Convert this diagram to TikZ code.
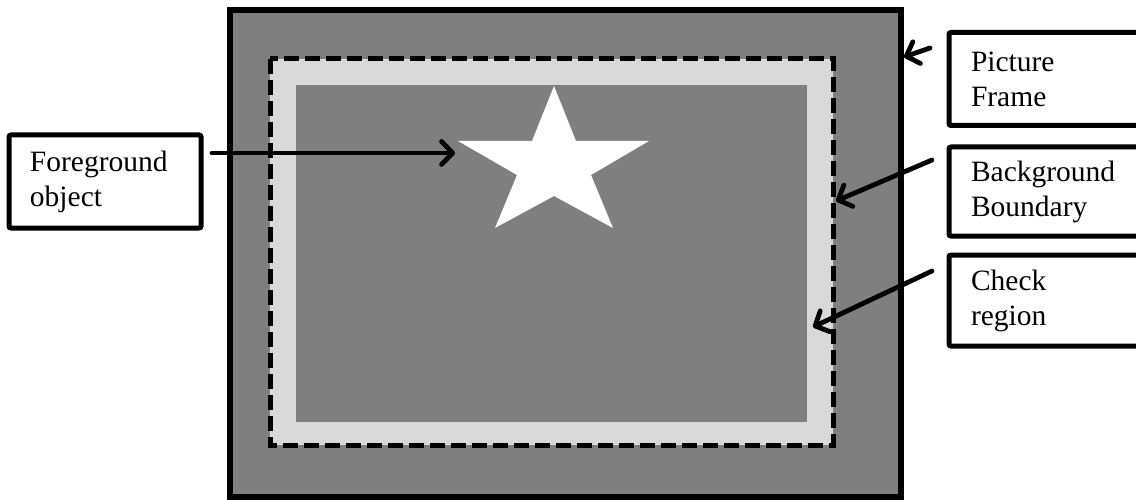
\documentclass[tikz,border=0pt]{standalone}
\usepackage{fontspec}
\setmainfont{Liberation Serif}
\usetikzlibrary{arrows.meta}
\definecolor{framegray}{HTML}{7F7F7F}
\definecolor{bandgray}{HTML}{D9D9D9}
\begin{document}
\begin{tikzpicture}[x=1pt,y=-1pt,
  labelbox/.style={draw, line width=5pt, rounded corners=2pt, fill=white,
    align=left, inner xsep=21pt, inner ysep=0pt,
    font=\fontsize{29.5}{35}\selectfont},
  pointer/.style={line width=4.8pt, line cap=round, line join=round,
    -{Straight Barb[length=11pt,width=23pt,line cap=round,line join=round]}},
  boundary/.style={line width=5pt, dash pattern=on 15pt off 6pt}]
\useasboundingbox (0,0) rectangle (1136,500);
\clip (0,0) rectangle (1136,500);

% picture frame
\path[fill=framegray, draw=black, line width=5.5pt] (230,10) rectangle (901,497);
% check region band and inner background
\fill[bandgray] (270,59) rectangle (833,445);
\fill[framegray] (296,85) rectangle (807,422);
% background boundary
\draw[boundary] (270,59) rectangle (833,445);

% foreground object
\fill[white] (554,86) -- (576,141) -- (649,141) -- (591,175) -- (613,228)
  -- (554,196) -- (495,228) -- (517,175) -- (458,141) -- (532,141) -- cycle;

% labels
\node[labelbox, minimum height=93pt, text width=150pt] (fgbox) at (105,181.5)
  {Foreground\\object};
\node[labelbox, inner xsep=22pt, minimum height=93pt, text width=167pt] (pfbox) at (1054.5,79)
  {Picture\\Frame};
\node[labelbox, inner xsep=22pt, minimum height=89pt, text width=167pt] (bgbox) at (1054.5,191.5)
  {Background\\Boundary};
\node[labelbox, inner xsep=22pt, minimum height=91pt, text width=167pt] (ckbox) at (1054.5,300.5)
  {Check\\region};

% pointers
\coordinate (fgTail) at (212,153);
\coordinate (fgTip) at (455,153);
\coordinate (pfTail) at (930,48);
\coordinate (pfTip) at (904,57);
\coordinate (bgTail) at (932,160);
\coordinate (bgTip) at (836,201);
\coordinate (ckTail) at (932,271);
\coordinate (ckTip) at (813,327);
\draw[pointer] (fgTail) -- (fgTip);
\draw[pointer] (pfTail) -- (pfTip);
\draw[pointer] (bgTail) -- (bgTip);
\draw[pointer] (ckTail) -- (ckTip);
\end{tikzpicture}
\end{document}
